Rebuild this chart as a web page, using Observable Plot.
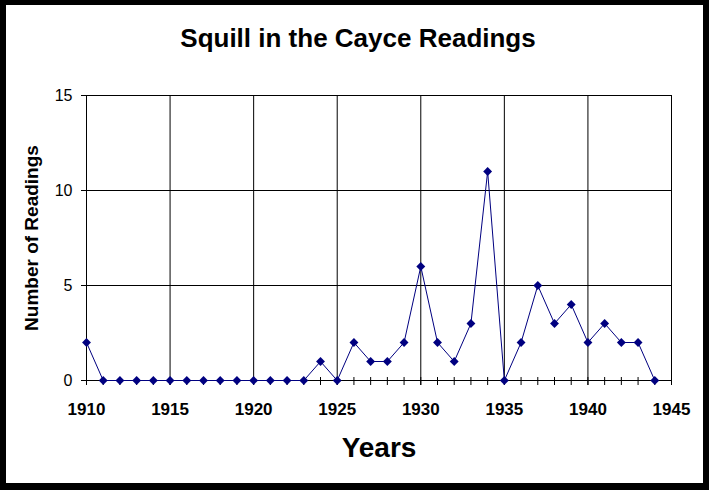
<!DOCTYPE html>
<html>
<head>
<meta charset="utf-8">
<script src="https://cdn.jsdelivr.net/npm/d3@7"></script>
<script src="https://cdn.jsdelivr.net/npm/@observablehq/plot@0.6"></script>
<style>
  body { margin: 0; font-family: "Liberation Sans", Arial, sans-serif; }
  #wrap { position: relative; width: 709px; height: 490px; background: #000; }
  #panel { position: absolute; left: 6px; top: 5px; width: 697px; height: 478px; background: #fff; }
  #chart { position: absolute; left: 0; top: 0; }
  .lbl { position: absolute; font-weight: bold; color: #000; white-space: nowrap; line-height: 1; }
  #title { left: 358px; top: 25px; font-size: 26px; transform: translateX(-50%); }
  #ylab { left: 31px; top: 238px; font-size: 19px; transform: translate(-50%, -50%) rotate(-90deg); }
  #xlab { left: 379px; top: 434px; font-size: 28px; transform: translateX(-50%); }
</style>
</head>
<body>
<div id="wrap">
  <div id="panel"></div>
  <div id="chart"></div>
  <div class="lbl" id="title">Squill in the Cayce Readings</div>
  <div class="lbl" id="ylab">Number of Readings</div>
  <div class="lbl" id="xlab">Years</div>
</div>
<script>
// lecturas por año
const years = [1910, 1911, 1912, 1913, 1914, 1915, 1916, 1917, 1918, 1919,
  1920, 1921, 1922, 1923, 1924, 1925, 1926, 1927, 1928, 1929,
  1930, 1931, 1932, 1933, 1934, 1935, 1936, 1937, 1938, 1939,
  1940, 1941, 1942, 1943, 1944];
const readings = [2, 0, 0, 0, 0, 0, 0, 0, 0, 0,
  0, 0, 0, 0, 1, 0, 2, 1, 1, 2,
  6, 2, 1, 3, 11, 0, 2, 5, 3, 4,
  2, 3, 2, 2, 0];
const xTicks = [1910, 1915, 1920, 1925, 1930, 1935, 1940, 1945];
const yTicks = [0, 5, 10, 15];
const minorTicks = [...years, 1945];

const data = years.map((y, i) => ({year: y, n: readings[i]}));

const chart = Plot.plot({
  width: 709,
  height: 490,
  marginLeft: 86,
  marginRight: 38,
  marginTop: 95,
  marginBottom: 110,
  style: {background: 'transparent', color: '#000', fontFamily: '"Liberation Sans", Arial, sans-serif'},
  x: {domain: [1910, 1945]},
  y: {domain: [0, 15]},
  marks: [
    Plot.gridX(xTicks, {stroke: '#000', strokeOpacity: 1}),
    Plot.gridY(yTicks, {stroke: '#000', strokeOpacity: 1}),
    Plot.frame({stroke: '#000'}),
    Plot.axisY({ticks: yTicks, tickSize: 5, tickPadding: 9, fontSize: 16, label: null}),
    Plot.axisX({ticks: minorTicks, tickSize: 5, tickFormat: () => '', label: null}),
    Plot.axisX({ticks: xTicks, tickSize: 5, tickPadding: 17, fontSize: 17, fontWeight: 'bold', tickFormat: (d) => String(d), label: null}),
    Plot.ruleX(minorTicks, {x: (d) => d, stroke: '#000', insetTop: 282}),
    Plot.line(data, {x: 'year', y: 'n', stroke: '#000080', strokeWidth: 1}),
    Plot.dot(data, {x: 'year', y: 'n', symbol: 'diamond2', r: 4, fill: '#000080', stroke: 'none'})
  ]
});

d3.select('#chart').append(() => chart);
</script>
</body>
</html>
